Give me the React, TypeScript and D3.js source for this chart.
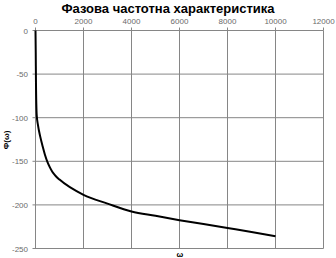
import React from "react";
import * as d3 from "d3";

const omega = [0, 10, 20, 50, 100, 200, 300, 400, 500, 600, 700, 800, 900, 1000, 2000, 3000, 4000, 5000, 6000, 7000, 8000, 9000, 10000];
const phi = [0, -25, -60, -97, -108, -122, -133, -143, -151, -157, -162, -165.5, -168.5, -171, -188.5, -198.5, -207.5, -212.5, -217.5, -222, -226.5, -231, -236];
const xTicks = [0, 2000, 4000, 6000, 8000, 10000, 12000];
const yTicks = [0, -50, -100, -150, -200, -250];

const W = 336, H = 258;
const L = 35.5, R = 323.5, T = 30.5, B = 248.5;

export default function App() {
  const x = d3.scaleLinear().domain([0, 12000]).range([L, R]);
  const y = d3.scaleLinear().domain([0, -250]).range([T, B]);
  const line = d3.line<number>().x((d, i) => x(omega[i])).y((d) => y(d)).curve(d3.curveMonotoneX);
  const font = "Liberation Sans, Arial, sans-serif";
  return (
    <svg width={W} height={H} style={{ position: "absolute", left: 0, top: 0, background: "#fff" }}>
      <text x={168} y={13} textAnchor="middle" fontFamily={font} fontWeight="bold" fontSize={13} fill="#000">Фазова частотна характеристика</text>
      {xTicks.map((t) => (
        <g key={"x" + t}>
          {t !== 0 && <line x1={x(t)} x2={x(t)} y1={T} y2={B} stroke="#868686" strokeWidth={1} />}
          <text x={x(t)} y={24} textAnchor="middle" fontFamily={font} fontSize={8} fill="#6a6a6a">{t}</text>
        </g>
      ))}
      {yTicks.map((t) => (
        <g key={"y" + t}>
          <line x1={L - 3} x2={R} y1={y(t)} y2={y(t)} stroke="#868686" strokeWidth={1} />
          <text x={28} y={y(t) + 3} textAnchor="end" fontFamily={font} fontSize={8} fill="#6a6a6a">{t}</text>
        </g>
      ))}
      <line x1={L} x2={L} y1={T} y2={B} stroke="#868686" strokeWidth={1} />
      {xTicks.map((t) => (
        <line key={"xt" + t} x1={x(t)} x2={x(t)} y1={T - 3} y2={T} stroke="#868686" strokeWidth={1} />
      ))}
      <path d={line(phi) || ""} fill="none" stroke="#000" strokeWidth={2} />
      <text transform={`translate(9,140) rotate(-90)`} textAnchor="middle" fontFamily={font} fontWeight="bold" fontSize={8} fill="#000">Φ(ω)</text>
      <text x={180} y={257} textAnchor="middle" fontFamily={font} fontWeight="bold" fontSize={8} fill="#000">ω</text>
    </svg>
  );
}
